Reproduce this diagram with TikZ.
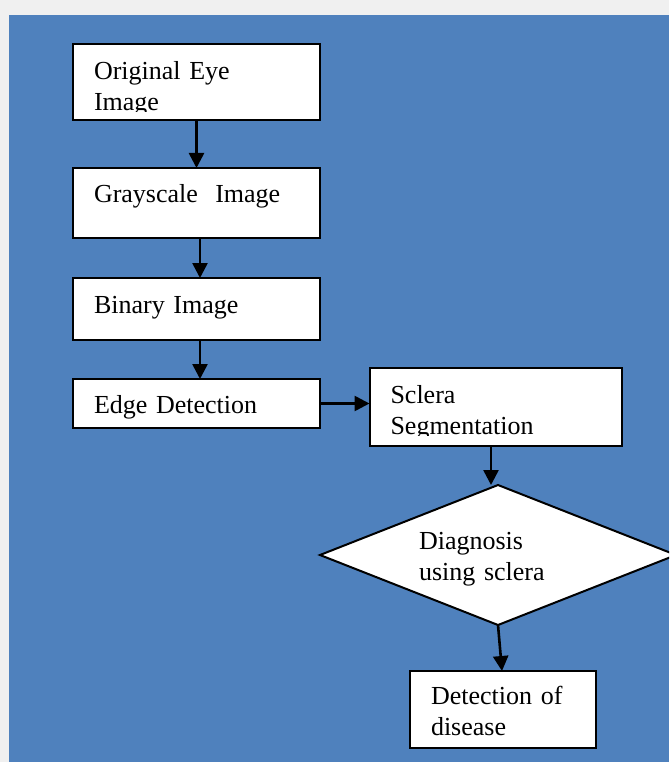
\documentclass[tikz,border=0pt]{standalone}
\usepackage{fontspec}
\setmainfont{Liberation Serif}
\usetikzlibrary{arrows.meta,shapes.geometric}
\definecolor{bgblue}{HTML}{4F81BD}
\definecolor{bggray}{HTML}{F0F0F0}
\begin{document}
\begin{tikzpicture}[x=1pt,y=-1pt,inner sep=0pt,outer sep=0pt,
procblock/.style={draw,fill=white,rectangle,line width=2pt,minimum width=247pt,text width=205pt,align=left,text height=20pt,font=\fontsize{26}{31}\selectfont},
decblock/.style={draw,fill=white,diamond,shape aspect=2.54,line width=2pt,minimum width=356pt,minimum height=140pt,text width=158pt,align=left,text height=20pt,font=\fontsize{26}{31}\selectfont},
flow/.style={line width=2.6pt,-{Triangle[length=15pt,width=15pt]}}]
\useasboundingbox (0,0) rectangle (669,762);
\clip (0,0) rectangle (669,762);
\fill[bggray] (0,0) rectangle (669,762);
\fill[bgblue] (9,15) rectangle (669,762);

\draw (196.5,82) node[procblock,minimum height=76pt,text depth=24pt] (orig) {Original Eye\\Image};
\draw (196.5,203) node[procblock,minimum height=70pt,text depth=22pt] (gray) {Grayscale\ \ Image};
\draw (196.5,309) node[procblock,minimum height=62pt,text depth=12pt] (bin) {Binary Image};
\draw (196.5,403.5) node[procblock,minimum height=49pt,text depth=1pt] (edge) {Edge Detection};
\draw (495.5,407) node[procblock,minimum width=252pt,text width=210pt,minimum height=78pt,text depth=28pt] (sclera) {Sclera\\Segmentation};
\draw (498,555) node[decblock,text depth=32pt] (diag) {Diagnosis\\using sclera};
\draw (503,709.5) node[procblock,minimum width=186pt,text width=144pt,minimum height=77pt,text depth=31pt] (detect) {Detection of\\disease};

% text cut off at the lower edge of the box
\fill[white] ([xshift=1pt,yshift=1pt]orig.south west) rectangle ([xshift=-1pt,yshift=8pt]orig.south east);
\fill[white] ([xshift=1pt,yshift=1pt]sclera.south west) rectangle ([xshift=-1pt,yshift=10.5pt]sclera.south east);

\draw[flow] (orig.south) -- (gray.north);
\draw[flow] ([xshift=3.5pt]gray.south) -- ([xshift=3.5pt]bin.north);
\draw[flow] ([xshift=3.5pt]bin.south) -- ([xshift=3.5pt]edge.north);
\draw[flow] (edge.east) -- (edge.east -| sclera.west);
\draw[flow] ([xshift=-4.5pt]sclera.south) -- ([xshift=-7pt]diag.north);
\draw[flow] (diag.south) -- ([xshift=-1pt]detect.north);
\end{tikzpicture}
\end{document}
